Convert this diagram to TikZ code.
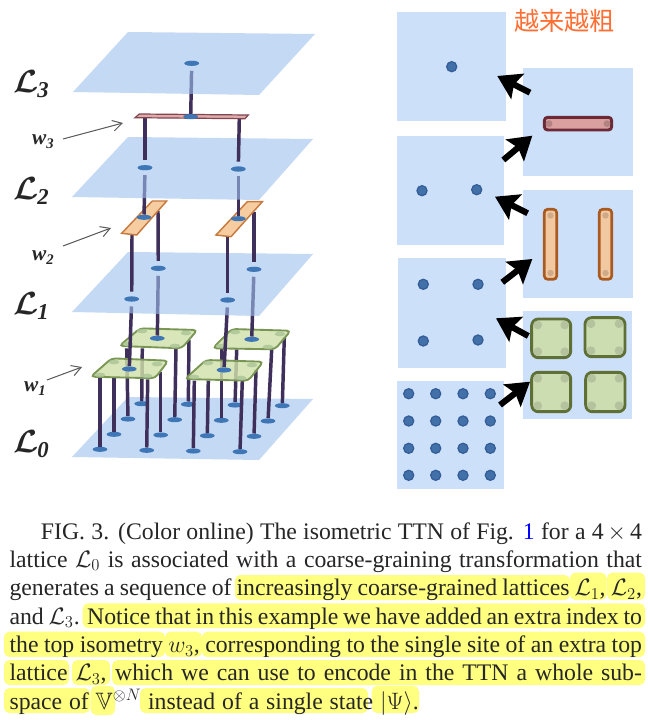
\RequirePackage{fix-cm}
\documentclass[tikz,border=0pt]{standalone}
\usepackage{amsmath,amssymb,bm}
\usepackage{fontspec}
\setmainfont{Liberation Serif}
\newfontfamily\cjk{Noto Sans CJK SC}
\usetikzlibrary{arrows.meta,shapes.geometric}
\definecolor{planeC}{RGB}{158,192,238}
\definecolor{panelC}{RGB}{204,224,250}
\definecolor{legC}{RGB}{62,47,91}
\definecolor{siteC}{RGB}{62,118,182}
\definecolor{dotC}{RGB}{66,112,168}
\definecolor{dotD}{RGB}{52,92,150}
\definecolor{hiC}{RGB}{255,255,128}
\definecolor{cnC}{RGB}{255,110,50}
\definecolor{greenF}{RGB}{208,225,170}
\definecolor{greenB}{RGB}{122,150,84}
\definecolor{greenC}{RGB}{170,196,150}
\definecolor{orangeF}{RGB}{246,205,160}
\definecolor{orangeB}{RGB}{200,122,62}
\definecolor{redF}{RGB}{222,170,170}
\definecolor{redB}{RGB}{130,70,80}
\definecolor{gtileF}{RGB}{205,221,178}
\definecolor{gtileB}{RGB}{94,112,54}
\definecolor{otileF}{RGB}{242,200,160}
\definecolor{otileB}{RGB}{168,90,32}
\definecolor{rtileF}{RGB}{218,160,160}
\definecolor{rtileB}{RGB}{107,42,53}
\tikzset{
  plane/.style={fill=planeC,fill opacity=.6,draw=none},
  panel/.style={fill=panelC,draw=none},
  leg/.style={draw=legC,line width=2.6pt},
  upleg/.style={leg,shorten >=3.5pt},
  dnleg/.style={leg,shorten <=3.5pt},
  site/.style={ellipse,fill=siteC,draw=none,minimum width=11pt,minimum height=3.8pt,inner sep=0pt},
  greenT/.style={fill=greenF,fill opacity=.82,draw=greenB,line width=1.4pt,rounded corners=3pt},
  blob/.style={ellipse,fill=greenC,fill opacity=.8,draw=none,minimum width=8pt,minimum height=3.5pt,inner sep=0pt},
  orangeT/.style={fill=orangeF,draw=orangeB,line width=1.1pt},
  redT/.style={fill=redF,draw=redB,line width=.9pt},
  pdot/.style={circle,fill=dotC,draw=dotD,line width=.9pt,minimum size=7.6pt,inner sep=0pt},
  gtile/.style={fill=gtileF,draw=gtileB,line width=2.2pt,rounded corners=5pt},
  otile/.style={fill=otileF,draw=otileB,line width=2pt,rounded corners=2.5pt},
  rtile/.style={fill=rtileF,draw=rtileB,line width=2.2pt,rounded corners=2.5pt},
  bigarrow/.style={draw=black,line width=4.6pt,-{Stealth[length=17pt,width=21pt,inset=3pt]}},
  callout/.style={draw=black!65,line width=.75pt,-{Straight Barb[length=7pt,width=8pt]}},
  biglabel/.style={inner sep=0pt,text=black!85},
  wlabel/.style={inner sep=0pt,text=black!85},
  hi/.style={fill=hiC,draw=none,rounded corners=4pt},
  capline/.style={inner sep=0pt,anchor=base west,text=black!85},
}
\newcommand{\calL}[1]{\fontsize{24}{28}\selectfont$\bm{\mathcal{L}}$\kern-1pt\raisebox{-4pt}{\fontsize{17}{20}\selectfont\textbf{\textit{#1}}}}
\newcommand{\wL}[1]{\fontsize{16}{20}\selectfont\textbf{\textit{w}}\raisebox{-3pt}{\fontsize{11}{13}\selectfont\textbf{\textit{#1}}}}
\newcommand{\capfont}{\fontsize{17.8}{20}\selectfont}
\begin{document}
\begin{tikzpicture}[x=0.75pt,y=-0.75pt]
\useasboundingbox (0,0) rectangle (647,720);
\fill[white] (0,0) rectangle (647,720);

% ---------- Left: layered network ----------
\fill[plane] (128,397) -- (313,399) -- (259,460) -- (72,457) -- cycle;

% back-left
\foreach \n/\sx/\sy/\tx/\ty in {a/128/419/126.7/348.3,b/141.7/403.7/142.3/348.3,c/174.7/419.7/176/348.3,d/188.3/404.3/189/340}{
  \node[site] (s\n) at (\sx,\sy) {};
  \coordinate (t\n) at (\tx,\ty);
  \draw[leg] (s\n) -- (t\n);
}
\draw[greenT] (119.3,346) -- (140,328.3) -- (197.3,330) -- (181.7,348.3) -- cycle;
\foreach \x/\y in {128/344,142/331,186/333,175/346} \node[blob] at (\x,\y) {};
\node[site] (gb1) at (157.3,338.3) {};
% back-right
\foreach \n/\sx/\sy/\tx/\ty in {e/221.3/420.3/221.3/349.3,f/235/405/236.7/349.3,g/268/421/271.7/349.3,h/282.3/405.7/284.3/337.3}{
  \node[site] (s\n) at (\sx,\sy) {};
  \coordinate (t\n) at (\tx,\ty);
  \draw[leg] (s\n) -- (t\n);
}
\draw[greenT] (212.7,348.3) -- (231.7,329) -- (290.7,330.7) -- (275,349.3) -- cycle;
\foreach \x/\y in {221/346,235/332,280/334,268/347} \node[blob] at (\x,\y) {};
\node[site] (gb2) at (251.7,339.3) {};
% front-left
\foreach \n/\sx/\sy/\tx/\ty in {i/100/449.3/100/378.3,j/114/434.3/114/378.3,k/146.7/450.3/147.7/379.3,l/160.7/435/160.7/371.7}{
  \node[site] (s\n) at (\sx,\sy) {};
  \coordinate (t\n) at (\tx,\ty);
  \draw[leg] (s\n) -- (t\n);
}
\draw[greenT] (90.7,376.7) -- (111.7,358.3) -- (168.3,360.7) -- (155,378.3) -- cycle;
\foreach \x/\y in {100/375,114/362,157/364,147/376} \node[blob] at (\x,\y) {};
\node[site] (gf1) at (129.3,369) {};
% front-right
\foreach \n/\sx/\sy/\tx/\ty in {m/193.3/451/194.3/380.7,o/207.3/435.7/208.3/380.7,p/240/451.7/242.3/380.7,q/254/436.3/256/370}{
  \node[site] (s\n) at (\sx,\sy) {};
  \coordinate (t\n) at (\tx,\ty);
  \draw[leg] (s\n) -- (t\n);
}
\draw[greenT] (185,379) -- (206,360) -- (263.3,361.7) -- (248.3,380.7) -- cycle;
\foreach \x/\y in {194/377,208/363,252/365,241/378} \node[blob] at (\x,\y) {};
\node[site] (gf2) at (224,370) {};

% L1 sites (positions) and legs going up through the plane
\node[site] (la) at (131.7,299) {};
\node[site] (lb) at (158.3,268.3) {};
\node[site] (lc) at (227.7,300) {};
\node[site] (ld) at (254,269.3) {};
\draw[upleg] (gf1) -- (la);
\draw[upleg] (gb1) -- (lb);
\draw[upleg] (gf2) -- (lc);
\draw[upleg] (gb2) -- (ld);
\fill[plane] (128,252) -- (313,254) -- (259,316) -- (72,312) -- cycle;
\node[site] at (la) {};
\node[site] at (lb) {};
\node[site] at (lc) {};
\node[site] at (ld) {};

% L1 to isometries w2
\coordinate (oa) at (132,235);
\coordinate (ob) at (158,211);
\coordinate (oc) at (227.7,236.7);
\coordinate (od) at (254,212);
\draw[dnleg] (la) -- (oa);
\draw[dnleg] (lb) -- (ob);
\draw[dnleg] (lc) -- (oc);
\draw[dnleg] (ld) -- (od);
\draw[orangeT] (121.7,233.3) -- (152.3,201) -- (166.7,201) -- (136.7,235) -- cycle;
\draw[orangeT] (216,235) -- (247.3,201.7) -- (262.3,201.7) -- (231,236.7) -- cycle;
\node[site] (od1) at (144,217.3) {};
\node[site] (od2) at (238.3,218.7) {};

% L2
\node[site] (ma) at (145,167.7) {};
\node[site] (mb) at (238.3,169) {};
\draw[upleg] (od1) -- (ma);
\draw[upleg] (od2) -- (mb);
\fill[plane] (128,137) -- (313,139) -- (259,200) -- (72,197) -- cycle;
\node[site] at (ma) {};
\node[site] at (mb) {};

% L2 to w3
\coordinate (ra) at (145,118);
\coordinate (rb) at (239.3,118);
\draw[dnleg] (ma) -- (ra);
\draw[dnleg] (mb) -- (rb);
\draw[redT] (135,117.7) -- (139.3,114) -- (248.3,115) -- (245,118.7) -- cycle;
\node[site] (rd) at (190.7,116.7) {};

% L3
\node[site] (ta) at (191.7,63.3) {};
\draw[upleg] (rd) -- (ta);
\fill[plane] (128,32) -- (315,34) -- (259,95) -- (73,92) -- cycle;
\node[site] at (ta) {};

% labels
\node[biglabel] (lab3) at (31,84) {\calL{3}};
\node[biglabel] (lab2) at (31,191) {\calL{2}};
\node[biglabel] (lab1) at (31,306) {\calL{1}};
\node[biglabel] (lab0) at (31,444) {\calL{0}};
\node[wlabel] (w3) at (43,142) {\wL{3}};
\node[wlabel] (w2) at (43,258) {\wL{2}};
\node[wlabel] (w1) at (35,389) {\wL{1}};
\coordinate (c3a) at (63,139); \coordinate (c3b) at (123,123);
\coordinate (c2a) at (63,246); \coordinate (c2b) at (111,228);
\coordinate (c1a) at (47,380); \coordinate (c1b) at (82,367);
\draw[callout] (c3a) -- (c3b);
\draw[callout] (c2a) -- (c2b);
\draw[callout] (c1a) -- (c1b);

% ---------- Right: flat panels ----------
\fill[panel] (396.7,11.7) rectangle (505.7,121);
\fill[panel] (396.7,135.7) rectangle (504.3,245);
\fill[panel] (397.7,258) rectangle (505.7,367.7);
\fill[panel] (396.7,381) rectangle (504.3,489);
\fill[panel] (523.3,68) rectangle (632.7,176);
\fill[panel] (523.3,190) rectangle (632.7,298.3);
\fill[panel] (523.3,310.7) rectangle (631.7,419);

\node[pdot] (pA) at (451.7,66.7) {};
\node[pdot] (pB1) at (422,190.7) {};
\node[pdot] (pB2) at (476.7,189.7) {};
\node[pdot] (pC1) at (423.3,284.3) {};
\node[pdot] (pC2) at (478,284.3) {};
\node[pdot] (pC3) at (423.3,341) {};
\node[pdot] (pC4) at (478,340) {};
\foreach \i/\x in {1/408.7,2/435.7,3/463,4/490.3}
  \foreach \j/\y in {1/393.7,2/421,3/448.3,4/475.3}
    \node[pdot] (pD\i\j) at (\x,\y) {};

\draw[rtile] (544.3,117.3) rectangle (611.7,130);
\fill[black!18!rtileF] (549,123.7) circle (2.6pt) (607,123.7) circle (2.6pt);
\draw[otile] (544.3,209.3) rectangle (556.7,279.3);
\draw[otile] (599.3,209.3) rectangle (611.7,279.3);
\foreach \x in {550.5,605.5} \fill[black!15!otileF] (\x,215.5) circle (2.4pt) (\x,273) circle (2.4pt);
\foreach \xa/\ya/\xb/\yb in {531.7/319/570.7/357.7,585/317.7/625/356.7,531.7/372.3/570.7/411.7,585.7/372.3/625/411.7}{
  \draw[gtile] (\xa,\ya) rectangle (\xb,\yb);
  \fill[black!12!gtileF] (\xa+6,\ya+6) circle (3.3pt) (\xb-6,\ya+6) circle (3.3pt)
     (\xa+6,\yb-6) circle (3.3pt) (\xb-6,\yb-6) circle (3.3pt);
}

\coordinate (a1s) at (530,92.7);   \coordinate (a1e) at (497.3,76);
\coordinate (a2s) at (503.3,160);  \coordinate (a2e) at (532.3,135.7);
\coordinate (a3s) at (527.7,213.3);\coordinate (a3e) at (495,196.7);
\coordinate (a4s) at (502.3,282.3);\coordinate (a4e) at (532.3,259);
\coordinate (a5s) at (528.3,336);  \coordinate (a5e) at (496,318.3);
\coordinate (a6s) at (500,405);    \coordinate (a6e) at (530,381.7);
\foreach \k in {1,...,6} \draw[bigarrow] (a\k s) -- (a\k e);

\node[inner sep=0pt,text=cnC] (cn) at (564.7,21) {\fontsize{18.9}{20}\selectfont\cjk 越来越粗};

% ---------- Caption ----------
\fill[hi] (235,575) rectangle (570,600);
\fill[hi] (570,572.7) rectangle (606.7,600);
\fill[hi] (607,572.7) rectangle (645,600);
\fill[hi] (82.7,603.3) rectangle (645,628);
\fill[hi] (4,631.7) rectangle (165,657);
\fill[hi] (165,631.7) rectangle (202,657);
\fill[hi] (202,631.7) rectangle (645,657);
\fill[hi] (4,660) rectangle (69,685);
\fill[hi] (72,660) rectangle (110,685);
\fill[hi] (112,660) rectangle (645,685);
\fill[hi] (4,688) rectangle (90,713);
\fill[hi] (90.7,686) rectangle (115,715);
\fill[hi] (140,688) rectangle (368,713);
\fill[hi] (371.7,686) rectangle (419,713);

\node[capline] (cap1) at (40.7,539) {\capfont\hbox to 450.75pt{FIG. 3. (Color online) The isometric TTN of Fig. \textcolor{blue}{1} for a 4\,$\times$\,4}};
\node[capline] (cap2) at (9.3,567.3) {\capfont\hbox to 474.3pt{lattice $\mathcal{L}_0$ is associated with a coarse-graining transformation that}};
\node[capline] (cap3) at (9.3,595.7) {\capfont\hbox to 474.3pt{generates a sequence of increasingly coarse-grained lattices $\mathcal{L}_1$, $\mathcal{L}_2$,}};
\node[capline] (cap4) at (9.3,624) {\capfont\hbox to 474.3pt{and $\mathcal{L}_3$. Notice that in this example we have added an extra index to}};
\node[capline] (cap5) at (9.3,652.7) {\capfont\hbox to 474.3pt{the top isometry $w_3$, corresponding to the single site of an extra top}};
\node[capline] (cap6) at (9.3,680.7) {\capfont\hbox to 474.3pt{lattice $\mathcal{L}_3$, which we can use to encode in the TTN a whole sub-}};
\node[capline] (cap7) at (9.3,709) {\capfont\hbox to 307pt{space of \smash{$\mathbb{V}^{\otimes N}$} instead of a single state $|\Psi\rangle$.}};
\end{tikzpicture}
\end{document}
